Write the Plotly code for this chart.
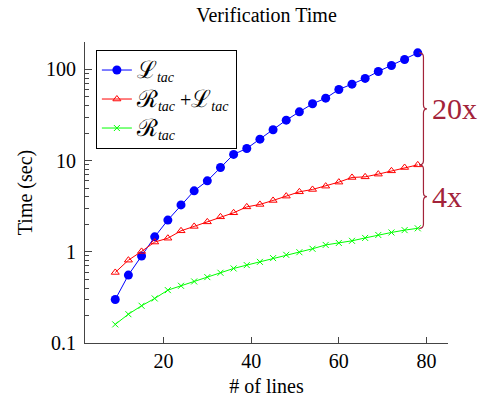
import math
import plotly.graph_objects as go

lines = [9, 12, 15, 18, 21, 24, 27, 30, 33, 36, 39, 42, 45, 48, 51, 54, 57, 60, 63, 66, 69, 72, 75, 78]
l_tac = [0.30, 0.556, 0.90, 1.46, 2.23, 3.27, 4.66, 6.0, 8.4, 11.7, 13.6, 17.2, 21.8, 27.8,
         34.3, 42.0, 48.4, 60.3, 69.0, 79.7, 95.0, 110.6, 128.7, 152.0]
rl_tac = [0.594, 0.81, 1.01, 1.28, 1.41, 1.70, 1.90, 2.13, 2.42, 2.68, 3.11, 3.31, 3.66, 4.08,
          4.55, 4.83, 5.25, 5.81, 6.54, 6.64, 7.11, 7.73, 8.41, 8.99]
r_tac = [0.16, 0.207, 0.256, 0.308, 0.38, 0.424, 0.473, 0.528, 0.589, 0.657, 0.715, 0.776, 0.853,
         0.927, 0.99, 1.08, 1.19, 1.25, 1.32, 1.42, 1.53, 1.63, 1.73, 1.81]

x_ticks = [20, 40, 60, 80]
y_ticks = [0.1, 1, 10, 100]
y_tick_text = ["0.1", "1", "10", "100"]
y_minor_ticks = [0.2, 0.3, 0.4, 0.5, 0.6, 0.7, 0.8, 0.9,
                 2, 3, 4, 5, 6, 7, 8, 9,
                 20, 30, 40, 50, 60, 70, 80, 90, 200]
ratio_labels = ["20x", "4x"]

FONT = "Times New Roman, Liberation Serif, serif"
BRACE = "#A3233A"

L = "<span style='font-size:24px'>ℒ</span><sub><i>tac</i></sub>"
R = "<span style='font-size:24px'>ℛ</span><sub><i>tac</i></sub>"

fig = go.Figure()
fig.add_trace(go.Scatter(
    x=lines, y=l_tac, mode="lines+markers", name=L,
    line=dict(color="#0000FF", width=1),
    marker=dict(symbol="circle", size=9, color="#0000FF")))
fig.add_trace(go.Scatter(
    x=lines, y=rl_tac, mode="lines+markers", name=R + " +" + L,
    line=dict(color="#FF0000", width=1),
    marker=dict(symbol="triangle-up-open", size=7, color="#FF0000", line=dict(width=1))))
fig.add_trace(go.Scatter(
    x=lines, y=r_tac, mode="lines+markers", name=R,
    line=dict(color="#00FF00", width=1),
    marker=dict(symbol="x-thin", size=6, color="#00FF00", line=dict(width=1, color="#00FF00"))))


def brace_path(top, bot, xe, xl, xt, d=0.045):
    lt, lb = math.log10(top), math.log10(bot)
    lm = (lt + lb) / 2
    p = lambda v: 10 ** v
    return (f"M{xe},{p(lt)} Q{xl},{p(lt)} {xl},{p(lt - d)} L{xl},{p(lm + d)} "
            f"Q{xl},{p(lm)} {xt},{p(lm)} Q{xl},{p(lm)} {xl},{p(lm - d)} "
            f"L{xl},{p(lb + d)} Q{xl},{p(lb)} {xe},{p(lb)}"), lm


x_last = lines[-1]
pairs = [(l_tac[-1], rl_tac[-1]), (rl_tac[-1], r_tac[-1])]
for (top, bot), lab in zip(pairs, ratio_labels):
    path, lm = brace_path(top, bot, x_last + 0.35, x_last + 1.3, x_last + 2.1)
    fig.add_shape(type="path", path=path, xref="x", yref="y",
                  line=dict(color=BRACE, width=1.2))
    fig.add_annotation(x=x_last + 2.7, y=lm, xref="x", yref="y", text=lab,
                       showarrow=False, xanchor="left", yanchor="middle",
                       font=dict(family=FONT, size=30, color=BRACE))

fig.update_layout(
    width=479, height=397,
    margin=dict(l=85, r=31, t=42, b=54, autoexpand=False),
    paper_bgcolor="white", plot_bgcolor="white",
    font=dict(family=FONT, size=20, color="black"),
    title=dict(text="Verification Time", x=0.5, xref="paper", xanchor="center",
               y=0.962, yref="container", yanchor="middle",
               font=dict(family=FONT, size=20, color="black")),
    showlegend=True,
    legend=dict(x=0.03, y=0.975, xanchor="left", yanchor="top",
                bordercolor="black", borderwidth=1, bgcolor="white",
                font=dict(family=FONT, size=20), tracegroupgap=0,
                itemwidth=30),
)
fig.update_xaxes(
    range=[2.1, 84.9], tickvals=x_ticks, ticks="inside", ticklen=6,
    tickcolor="#444", showline=True, linecolor="#444", linewidth=1,
    showgrid=False, zeroline=False, mirror=False, automargin=False,
    title=dict(text="# of lines", standoff=12, font=dict(family=FONT, size=20)),
    tickfont=dict(family=FONT, size=20))
fig.update_yaxes(
    type="log", range=[-1, math.log10(200)], tickvals=y_ticks, ticktext=y_tick_text,
    ticks="inside", ticklen=7, tickcolor="#444", showline=True, linecolor="#444",
    linewidth=1, showgrid=False, zeroline=False, mirror=False, automargin=False,
    minor=dict(tickvals=y_minor_ticks, ticks="inside", ticklen=4, tickcolor="#444",
               showgrid=False),
    title=dict(text="Time (sec)", standoff=8, font=dict(family=FONT, size=20)),
    tickfont=dict(family=FONT, size=20), ticklabelstandoff=4)

fig.write_html("out.html")
